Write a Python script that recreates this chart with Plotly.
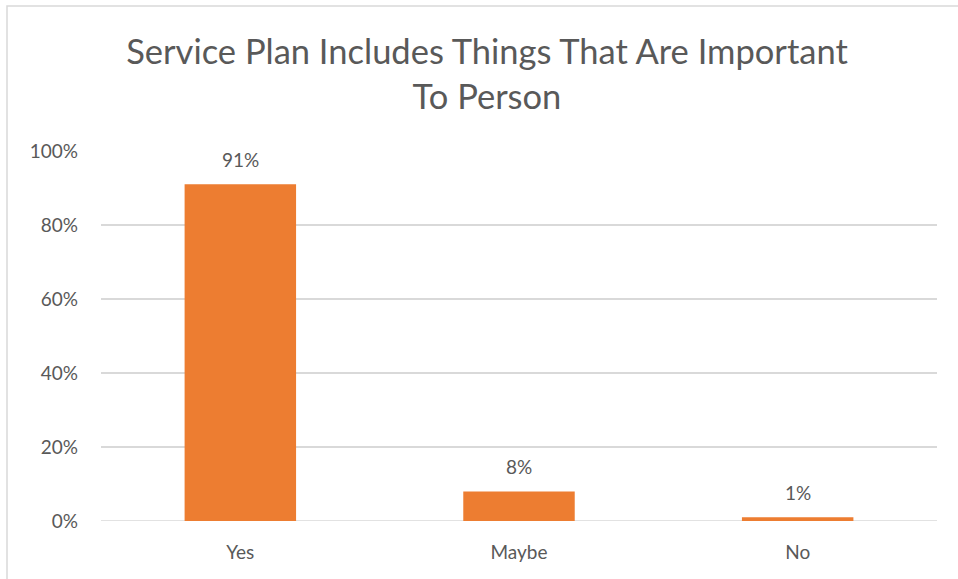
import plotly.graph_objects as go

categories = ["Yes", "Maybe", "No"]
values = [0.91, 0.08, 0.01]
labels = ["91%", "8%", "1%"]
tick_vals = [0, 0.2, 0.4, 0.6, 0.8, 1.0]
tick_text = ["0%", "20%", "40%", "60%", "80%", "100%"]

W, H = 958, 579
ml, mr, mt, mb = 101, 21, 151, 58
pw, ph = W - ml - mr, H - mt - mb

font_fam = "Lato, 'Open Sans', sans-serif"
gray = "#595959"

fig = go.Figure(go.Bar(
    x=categories, y=values, marker_color="#ED7D31", marker_line_width=0,
    hoverinfo="skip",
))

for c, v, t in zip(categories, values, labels):
    fig.add_annotation(x=c, y=v, text=t, showarrow=False, yanchor="bottom",
                       yshift=11, bgcolor="white", font=dict(size=19, color=gray, family=font_fam))

fig.add_shape(type="rect", xref="paper", yref="paper",
              x0=(7 - ml) / pw, x1=(980 - ml) / pw,
              y0=(521 - 600) / ph, y1=(521 - 6) / ph,
              line=dict(color="#D9D9D9", width=1.5), layer="below")

fig.update_layout(
    width=W, height=H,
    margin=dict(l=ml, r=mr, t=mt, b=mb),
    paper_bgcolor="white", plot_bgcolor="white",
    bargap=0.6,
    showlegend=False,
    title=dict(text="Service Plan Includes Things That Are Important<br>To Person",
               x=487 / W, xanchor="center", y=1 - 64 / H, yanchor="middle",
               font=dict(size=34.5, color=gray, family=font_fam)),
    font=dict(family=font_fam, color=gray, size=19),
    xaxis=dict(showgrid=False, showline=False, ticks="", ticklabelstandoff=18,
               tickfont=dict(size=19, color=gray)),
    yaxis=dict(range=[0, 1.0], tickvals=tick_vals, ticktext=tick_text, showgrid=True,
               gridcolor="#D9D9D9", gridwidth=1.5, zeroline=False, showline=False,
               ticks="", ticklabelstandoff=22, tickfont=dict(size=19, color=gray)),
)
fig.add_hline(y=0, line_color="#D9D9D9", line_width=1.5, layer="below")

fig.write_html("out.html", config={"displayModeBar": False},
               post_script="document.body.style.margin='0px';document.body.style.overflow='hidden';")
